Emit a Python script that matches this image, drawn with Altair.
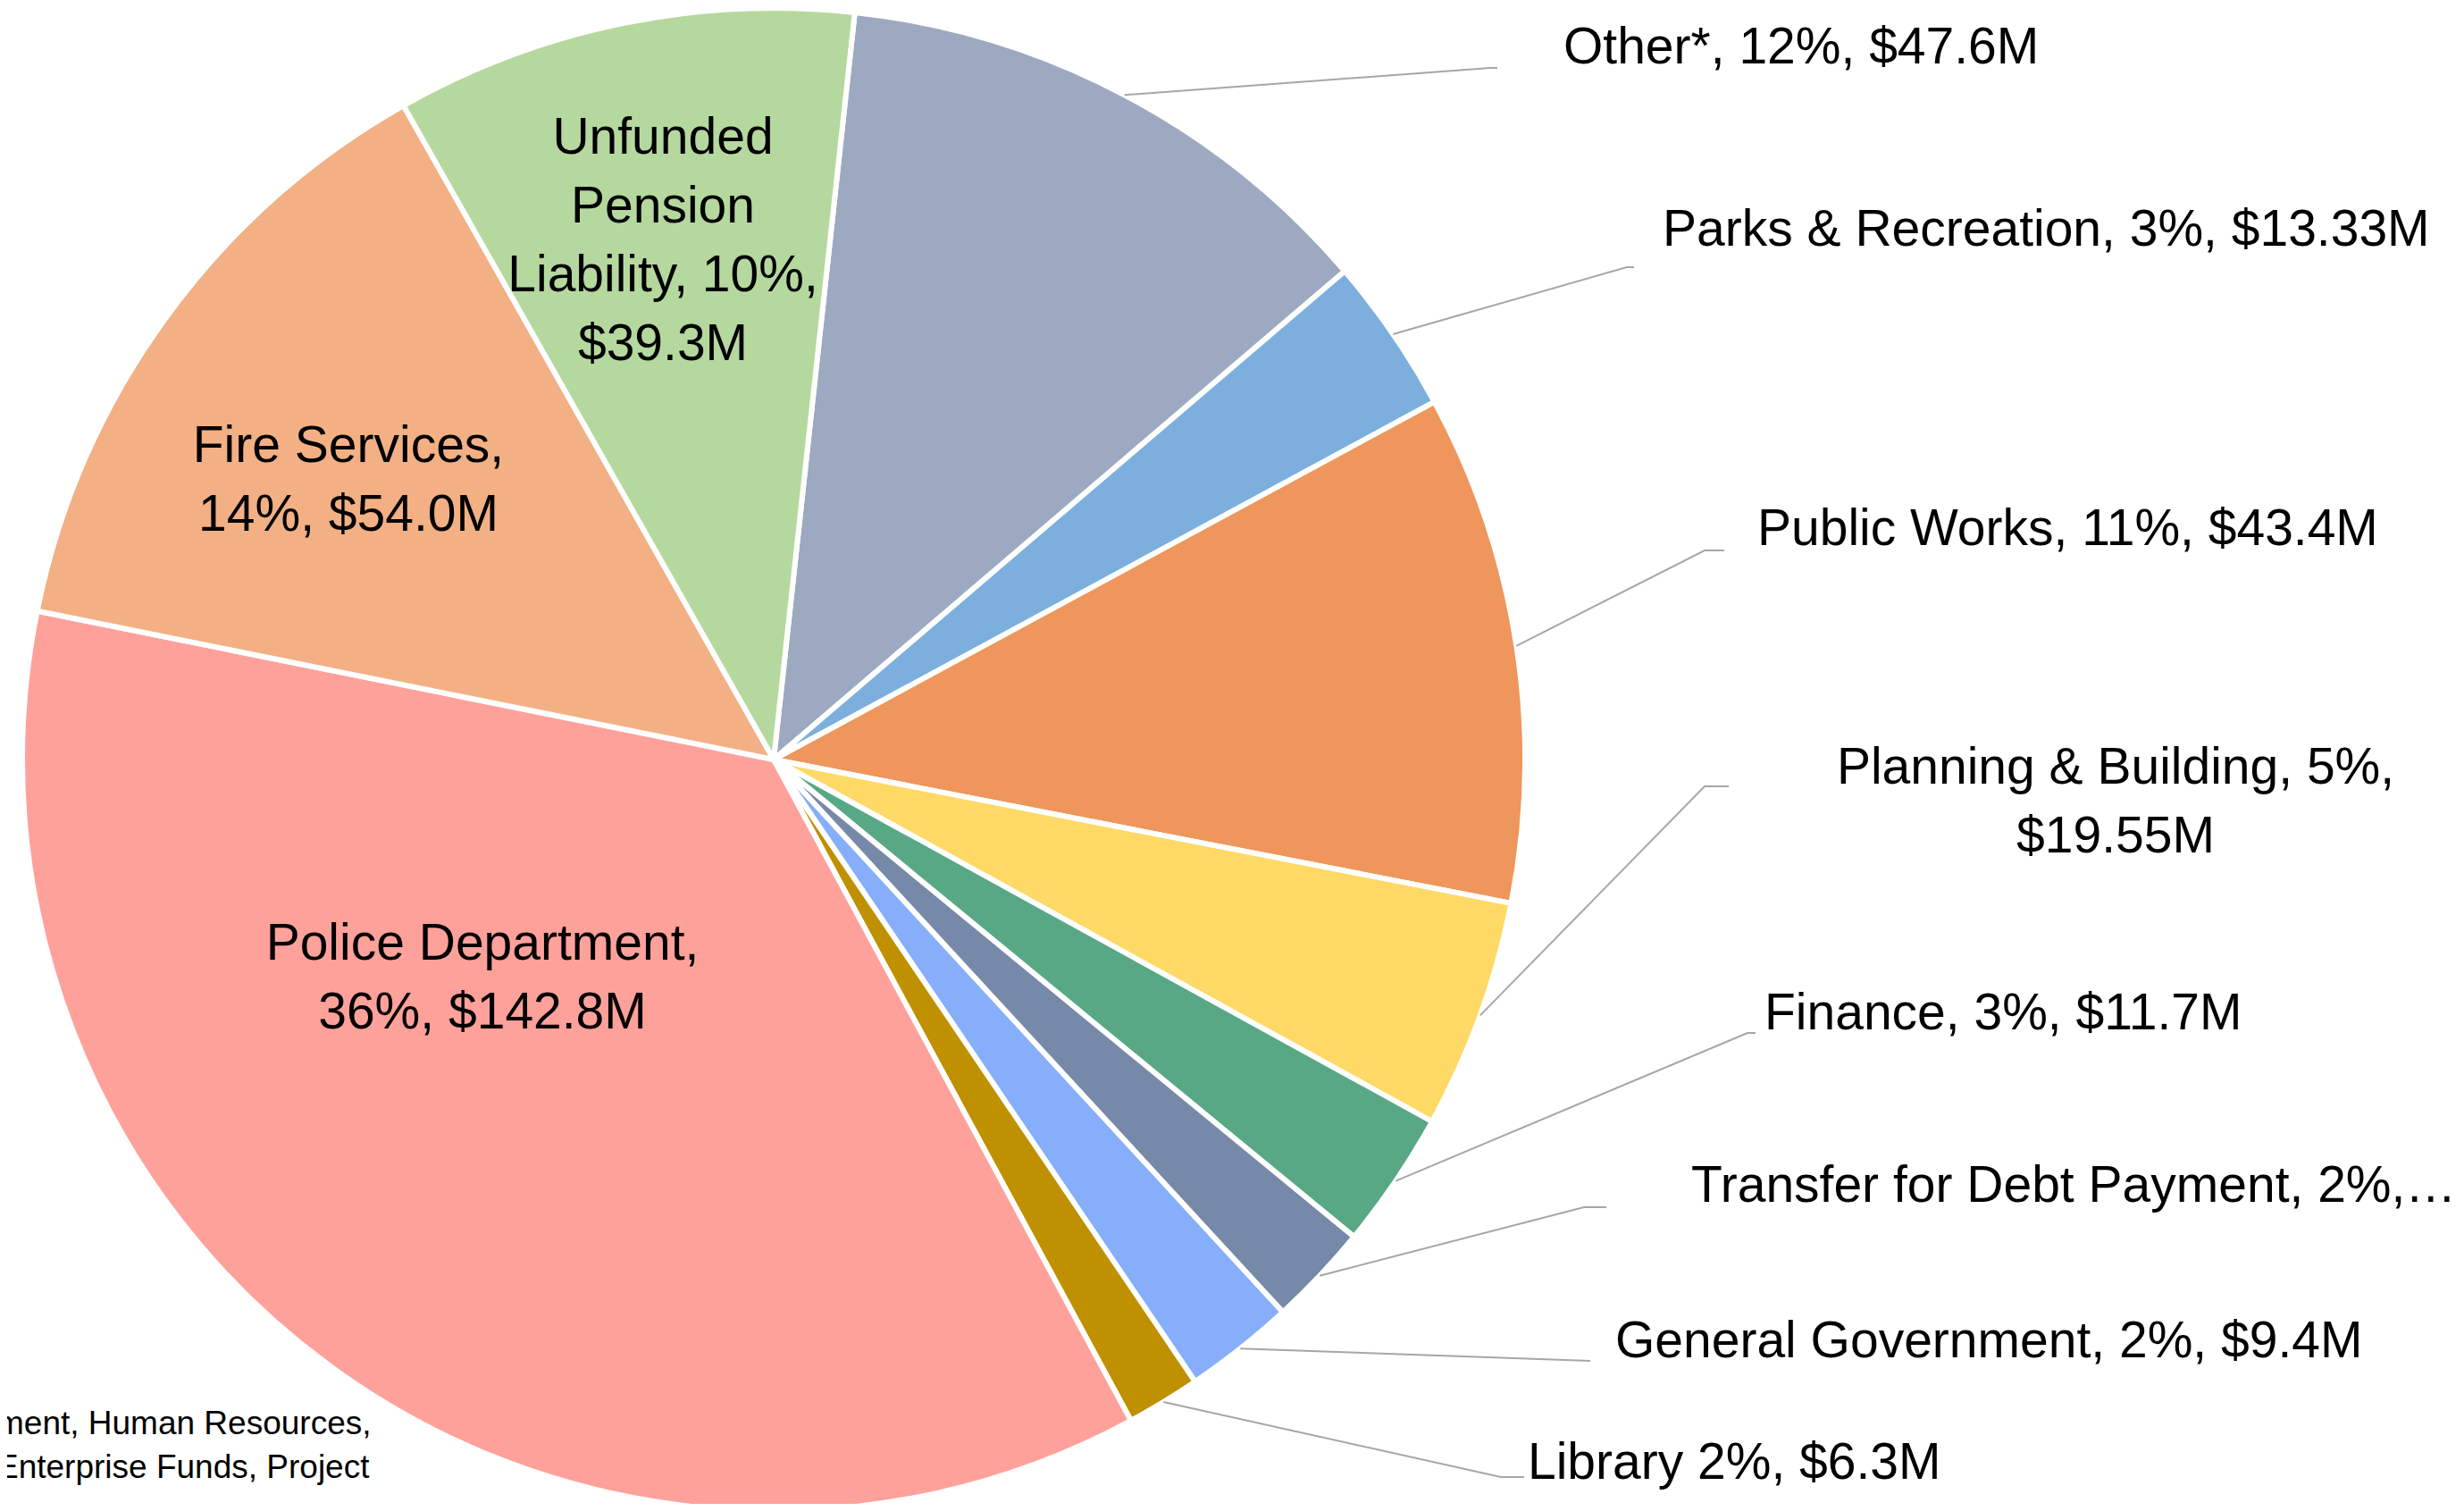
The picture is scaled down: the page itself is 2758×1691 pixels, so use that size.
import math
import altair as alt
import pandas as pd

# ---- data ----
names = ["Other*", "Parks & Recreation", "Public Works", "Planning & Building",
         "Finance", "Transfer for Debt Payment", "General Government", "Library",
         "Police Department", "Fire Services", "Unfunded Pension Liability"]
values = [47.6, 13.33, 43.4, 19.55, 11.7, 8.7, 9.4, 6.3, 142.8, 54.0, 39.3]
colors = ["#9DA9C0", "#7CAFDD", "#EE965B", "#FED966", "#58A886", "#7789A8",
          "#86AEFA", "#BF9000", "#FFA19B", "#F3B084", "#B5D89F"]
label_text = ["Other*, 12%, $47.6M",
              "Parks & Recreation, 3%, $13.33M",
              "Public Works, 11%, $43.4M",
              "Planning & Building, 5%,\n$19.55M",
              "Finance, 3%, $11.7M",
              "Transfer for Debt Payment, 2%,\u2026",
              "General Government, 2%, $9.4M",
              "Library 2%, $6.3M",
              "Police Department,\n36%, $142.8M",
              "Fire Services,\n14%, $54.0M",
              "Unfunded\nPension\nLiability, 10%,\n$39.3M"]
footnote = "ment, Human Resources,\nEnterprise Funds, Project"

# ---- layout (pixels) ----
W, H = 2742, 1675
CX, CY, R = 858, 842, 841
START = math.radians(6.2)
FONT = "Liberation Sans"
FS = 57
LH = 77

# label anchors (first line centre): (x, y, align) per slice
label_pos = [(1742, 46, "left"), (1853, 250, "left"), (1959, 585, "left"),
             (2360, 852, "center"), (1967, 1127, "left"), (1885, 1320, "left"),
             (1800, 1494, "left"), (1702, 1630, "left"),
             (532, 1049, "center"), (382, 492, "center"), (734, 147, "center")]
# leader elbows / ends for the outside labels (None = no leader)
leader_pts = [((1660, 68), (1668, 68)), ((1813, 291), (1821, 291)),
              ((1900, 608), (1922, 608)), ((1900, 872), (1927, 872)),
              ((1948, 1148), (1957, 1148)), ((1765, 1343), (1790, 1343)),
              ((1772, 1515), (1772, 1515)), ((1672, 1645), (1698, 1645)),
              None, None, None]

pie_df = pd.DataFrame({"name": names, "value": values, "idx": list(range(len(names)))})

# mid angles for leader starts
total = sum(values)
cum = 0.0
line_rows = []
for i, v in enumerate(values):
    mid = START + 2 * math.pi * (cum + v / 2) / total
    cum += v
    if leader_pts[i] is None:
        continue
    sx = CX + R * math.sin(mid)
    sy = CY - R * math.cos(mid)
    (ex, ey), (tx, ty) = leader_pts[i]
    for k, (px, py) in enumerate([(sx, sy), (ex, ey), (tx, ty)]):
        line_rows.append({"id": i, "k": k, "x": px, "y": py})
line_df = pd.DataFrame(line_rows)

lab_df = pd.DataFrame({"text": label_text,
                       "x": [p[0] for p in label_pos],
                       "y": [p[1] for p in label_pos],
                       "align": [p[2] for p in label_pos]})
left_df = lab_df[lab_df["align"] == "left"]
center_df = lab_df[lab_df["align"] == "center"]
foot_df = pd.DataFrame({"text": [footnote], "x": [-12], "y": [1586]})

xs = alt.Scale(domain=[0, W], range=[0, W])
ys = alt.Scale(domain=[0, H], range=[0, H])

pie = alt.Chart(pie_df).mark_arc(radius=R, stroke="white", strokeWidth=6).encode(
    theta=alt.Theta("value:Q", stack=True,
                    scale=alt.Scale(range=[START, START + 2 * math.pi])),
    order=alt.Order("idx:Q"),
    color=alt.Color("name:N", scale=alt.Scale(domain=names, range=colors), legend=None),
    x=alt.value(CX), y=alt.value(CY),
)

leaders = alt.Chart(line_df).mark_line(color="#A6A6A6", strokeWidth=2).encode(
    x=alt.X("x:Q", scale=xs, axis=None),
    y=alt.Y("y:Q", scale=ys, axis=None),
    detail="id:N",
    order="k:Q",
)

txt_left = alt.Chart(left_df).mark_text(
    align="left", baseline="middle", font=FONT, fontSize=FS, lineHeight=LH,
    lineBreak="\n", color="black").encode(
    x=alt.X("x:Q", scale=xs, axis=None), y=alt.Y("y:Q", scale=ys, axis=None), text="text:N")

txt_center = alt.Chart(center_df).mark_text(
    align="center", baseline="middle", font=FONT, fontSize=FS, lineHeight=LH,
    lineBreak="\n", color="black").encode(
    x=alt.X("x:Q", scale=xs, axis=None), y=alt.Y("y:Q", scale=ys, axis=None), text="text:N")

txt_foot = alt.Chart(foot_df).mark_text(
    align="left", baseline="middle", font=FONT, fontSize=37, lineHeight=49,
    lineBreak="\n", color="black").encode(
    x=alt.X("x:Q", scale=xs, axis=None), y=alt.Y("y:Q", scale=ys, axis=None), text="text:N")

chart = alt.layer(pie, leaders, txt_left, txt_center, txt_foot).properties(
    width=W, height=H, autosize=alt.AutoSizeParams(type="none"), padding=0,
    background="white"
).configure_view(stroke=None)

chart.save("out.html", embed_options={"renderer": "svg", "actions": False})
